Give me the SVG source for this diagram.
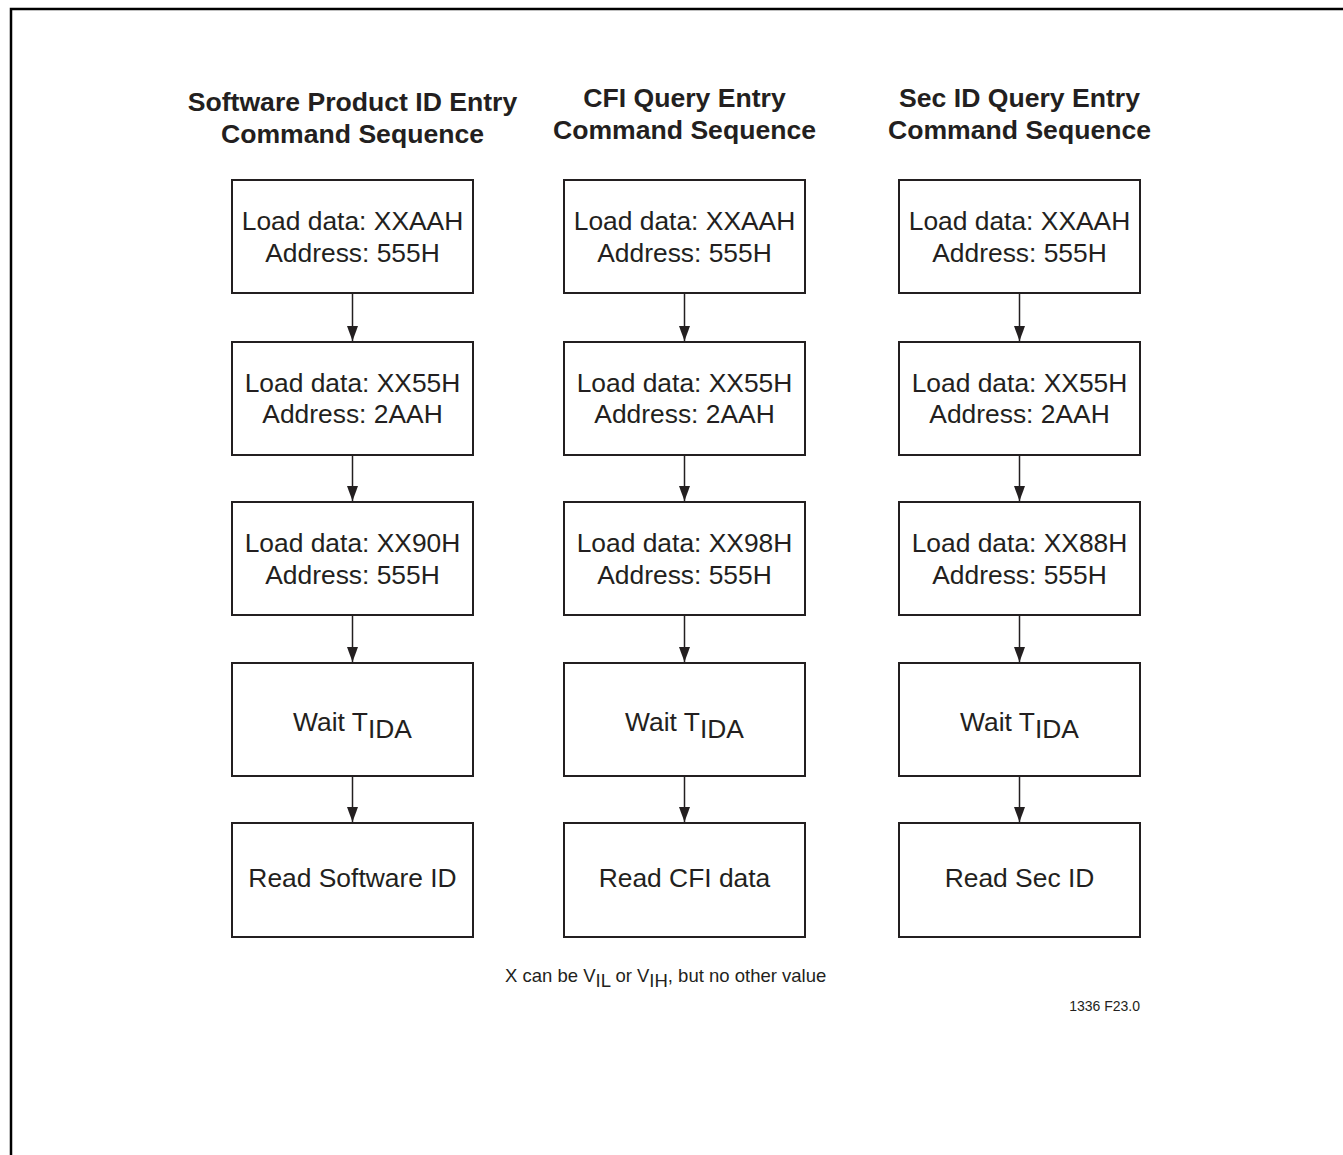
<svg xmlns="http://www.w3.org/2000/svg" width="1343" height="1155" viewBox="0 0 1343 1155">
<style>
.box{fill:#fff;stroke:#231f20;stroke-width:2}
.t{font-family:"Liberation Sans",Arial,sans-serif;font-size:26.4px;fill:#231f20;text-anchor:middle}
.h{font-family:"Liberation Sans",Arial,sans-serif;font-size:26.6px;font-weight:bold;fill:#231f20;text-anchor:middle}
.c{stroke:#231f20;stroke-width:1.5;fill:none;marker-end:url(#ah)}
.s{font-family:"Liberation Sans",Arial,sans-serif;fill:#231f20}
</style>
<defs>
<marker id="ah" markerWidth="15" markerHeight="11" refX="15" refY="5.5" orient="auto" markerUnits="userSpaceOnUse" viewBox="0 0 15 11">
<path d="M0,0 L15,5.5 L0,11 Z" fill="#231f20"/>
</marker>
</defs>
<rect width="1343" height="1155" fill="#fff"/>
<path d="M11,1155 V9 H1343" fill="none" stroke="#000" stroke-width="2.5"/>

<g id="titles">
<text class="h" x="352.5" y="111">Software Product ID Entry</text>
<text class="h" x="352.5" y="143">Command Sequence</text>
<text class="h" x="684.5" y="107">CFI Query Entry</text>
<text class="h" x="684.5" y="139">Command Sequence</text>
<text class="h" x="1019.5" y="107">Sec ID Query Entry</text>
<text class="h" x="1019.5" y="139">Command Sequence</text>
</g>

<g id="connectors">
<line class="c" x1="352.5" y1="293" x2="352.5" y2="341"/>
<line class="c" x1="352.5" y1="455" x2="352.5" y2="501"/>
<line class="c" x1="352.5" y1="615" x2="352.5" y2="662"/>
<line class="c" x1="352.5" y1="776" x2="352.5" y2="822"/>
<line class="c" x1="684.5" y1="293" x2="684.5" y2="341"/>
<line class="c" x1="684.5" y1="455" x2="684.5" y2="501"/>
<line class="c" x1="684.5" y1="615" x2="684.5" y2="662"/>
<line class="c" x1="684.5" y1="776" x2="684.5" y2="822"/>
<line class="c" x1="1019.5" y1="293" x2="1019.5" y2="341"/>
<line class="c" x1="1019.5" y1="455" x2="1019.5" y2="501"/>
<line class="c" x1="1019.5" y1="615" x2="1019.5" y2="662"/>
<line class="c" x1="1019.5" y1="776" x2="1019.5" y2="822"/>
</g>

<!-- Column 1 -->
<g id="c1n1"><rect class="box" x="232" y="180" width="241" height="113"/>
<text class="t" x="352.5" y="230">Load data: XXAAH</text><text class="t" x="352.5" y="262">Address: 555H</text></g>
<g id="c1n2"><rect class="box" x="232" y="342" width="241" height="113"/>
<text class="t" x="352.5" y="392">Load data: XX55H</text><text class="t" x="352.5" y="423">Address: 2AAH</text></g>
<g id="c1n3"><rect class="box" x="232" y="502" width="241" height="113"/>
<text class="t" x="352.5" y="552">Load data: XX90H</text><text class="t" x="352.5" y="584">Address: 555H</text></g>
<g id="c1n4"><rect class="box" x="232" y="663" width="241" height="113"/>
<text class="t" x="352.5" y="731">Wait T<tspan dy="7">IDA</tspan></text></g>
<g id="c1n5"><rect class="box" x="232" y="823" width="241" height="114"/>
<text class="t" x="352.5" y="887">Read Software ID</text></g>

<!-- Column 2 -->
<g id="c2n1"><rect class="box" x="564" y="180" width="241" height="113"/>
<text class="t" x="684.5" y="230">Load data: XXAAH</text><text class="t" x="684.5" y="262">Address: 555H</text></g>
<g id="c2n2"><rect class="box" x="564" y="342" width="241" height="113"/>
<text class="t" x="684.5" y="392">Load data: XX55H</text><text class="t" x="684.5" y="423">Address: 2AAH</text></g>
<g id="c2n3"><rect class="box" x="564" y="502" width="241" height="113"/>
<text class="t" x="684.5" y="552">Load data: XX98H</text><text class="t" x="684.5" y="584">Address: 555H</text></g>
<g id="c2n4"><rect class="box" x="564" y="663" width="241" height="113"/>
<text class="t" x="684.5" y="731">Wait T<tspan dy="7">IDA</tspan></text></g>
<g id="c2n5"><rect class="box" x="564" y="823" width="241" height="114"/>
<text class="t" x="684.5" y="887">Read CFI data</text></g>

<!-- Column 3 -->
<g id="c3n1"><rect class="box" x="899" y="180" width="241" height="113"/>
<text class="t" x="1019.5" y="230">Load data: XXAAH</text><text class="t" x="1019.5" y="262">Address: 555H</text></g>
<g id="c3n2"><rect class="box" x="899" y="342" width="241" height="113"/>
<text class="t" x="1019.5" y="392">Load data: XX55H</text><text class="t" x="1019.5" y="423">Address: 2AAH</text></g>
<g id="c3n3"><rect class="box" x="899" y="502" width="241" height="113"/>
<text class="t" x="1019.5" y="552">Load data: XX88H</text><text class="t" x="1019.5" y="584">Address: 555H</text></g>
<g id="c3n4"><rect class="box" x="899" y="663" width="241" height="113"/>
<text class="t" x="1019.5" y="731">Wait T<tspan dy="7">IDA</tspan></text></g>
<g id="c3n5"><rect class="box" x="899" y="823" width="241" height="114"/>
<text class="t" x="1019.5" y="887">Read Sec ID</text></g>

<g id="notes">
<text class="s" x="505" y="982" font-size="18.5">X can be V<tspan dy="5">IL</tspan><tspan dy="-5"> or V</tspan><tspan dy="5">IH</tspan><tspan dy="-5">, but no other value</tspan></text>
<text class="s" x="1140" y="1011" font-size="14" text-anchor="end">1336 F23.0</text>
</g>
</svg>
